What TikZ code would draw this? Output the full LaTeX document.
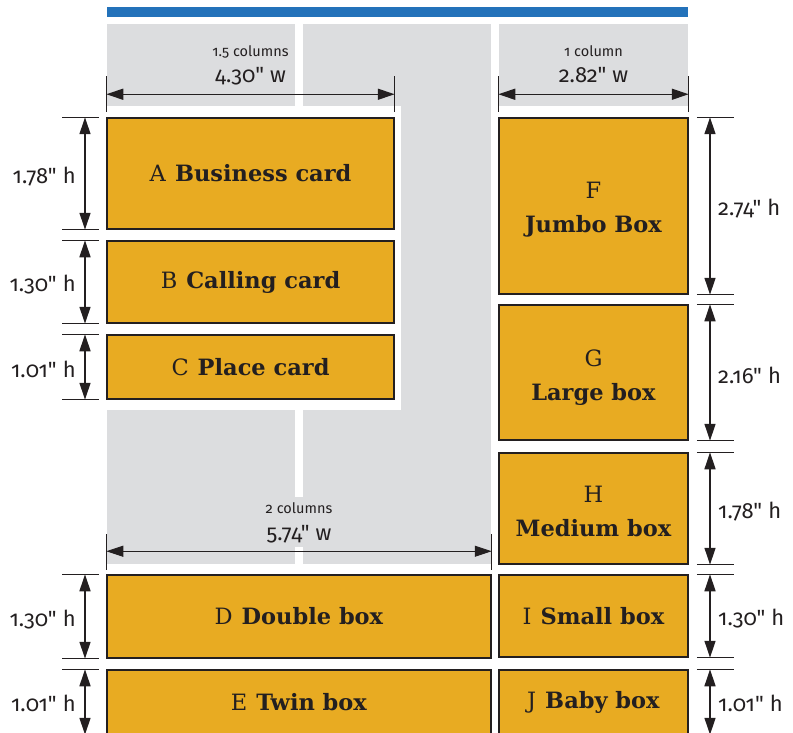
\documentclass[tikz,border=0pt]{standalone}
\usepackage{fontspec}
\setmainfont{DejaVu Serif}
\newfontfamily\dimfont{Fira Sans}[Numbers=OldStyle]
\usetikzlibrary{arrows.meta}
\definecolor{boxfill}{HTML}{E8AB22}
\definecolor{colgray}{HTML}{DCDDDF}
\definecolor{barblue}{HTML}{2372BA}
\definecolor{ink}{HTML}{231F20}
\newcommand{\dsp}{\hspace{0.28em}}
\begin{document}
\begin{tikzpicture}[x=1pt,y=-1pt,
  sizebox/.style={draw=ink, line width=1.5pt, fill=boxfill, text=ink, align=center, inner sep=0pt,
    font=\fontsize{22.5}{35}\selectfont},
  dimline/.style={draw=ink, line width=1.3pt, {Triangle[length=17pt,width=11pt]}-{Triangle[length=17pt,width=11pt]}},
  thindim/.style={draw=ink, line width=0.9pt, {Triangle[length=17pt,width=11pt]}-{Triangle[length=17pt,width=11pt]}},
  extline/.style={draw=ink, line width=1.3pt},
  dimlab/.style={font=\dimfont\fontsize{22}{24}\selectfont, text=ink, inner sep=0pt},
  collab/.style={font=\dimfont\fontsize{14.5}{16}\selectfont, text=ink, inner sep=0pt}
]
\useasboundingbox (0,0) rectangle (793,733);
\clip (0,0) rectangle (793,733);
% blue bar and grey columns
\fill[barblue] (107,7) rectangle (688,17);
\fill[colgray] (107,24) rectangle (295,564);
\fill[colgray] (303,24) rectangle (491,564);
\fill[colgray] (499,24) rectangle (688,106);
\fill[white] (107,106) rectangle (401,410);
% boxes
\node[sizebox, minimum width=287pt, minimum height=111pt] (A) at (250.5,173.5) {A\hspace{9pt}\textbf{Business card}};
\node[sizebox, minimum width=287pt, minimum height=82pt] (B) at (250.5,282) {B\hspace{9pt}\textbf{Calling card}};
\node[sizebox, minimum width=287pt, minimum height=64pt] (C) at (250.5,367) {C\hspace{9pt}\textbf{Place card}};
\node[sizebox, minimum width=384pt, minimum height=83pt] (D) at (299,616.5) {D\hspace{9pt}\textbf{Double box}};
\node[sizebox, minimum width=384pt, minimum height=64pt] (E) at (299,702) {E\hspace{9pt}\textbf{Twin box}};
\node[sizebox, minimum width=189pt, minimum height=176pt] (F) at (593.5,206) {};
\node[sizebox, minimum width=189pt, minimum height=135pt] (G) at (593.5,372.5) {};
\node[sizebox, minimum width=189pt, minimum height=111pt] (H) at (593.5,508.5) {};
\node[sizebox, minimum width=189pt, minimum height=82pt] (I) at (593.5,616) {I\hspace{9pt}\textbf{Small box}};
\node[sizebox, minimum width=189pt, minimum height=64pt] (J) at (593.5,702) {J\hspace{9pt}\textbf{Baby box}};
% two-line texts of F, G, H (letter above name)
\node[sizebox, draw=none, fill=none, anchor=base] (Fl) at (593.5,199) {F};
\node[sizebox, draw=none, fill=none, anchor=base] (Fn) at (593.5,233) {\textbf{Jumbo Box}};
\node[sizebox, draw=none, fill=none, anchor=base] (Gl) at (593.5,366) {G};
\node[sizebox, draw=none, fill=none, anchor=base] (Gn) at (593.5,400) {\textbf{Large box}};
\node[sizebox, draw=none, fill=none, anchor=base] (Hl) at (593.5,502) {H};
\node[sizebox, draw=none, fill=none, anchor=base] (Hn) at (593.5,536) {\textbf{Medium box}};
% reference x positions for vertical dimensions
\coordinate (L) at (85,0);
\coordinate (R) at (710,0);
% left height dimensions
\foreach \b in {A,B,C,D,E}{
  \draw[extline] ([xshift=-44pt]\b.north west) -- ([xshift=-7pt]\b.north west);
  \draw[extline] ([xshift=-44pt]\b.south west) -- ([xshift=-7pt]\b.south west);
  \draw[dimline] (\b.north -| L) -- (\b.south -| L);
}
% right height dimensions
\foreach \b in {F,G,H,I,J}{
  \draw[extline] ([xshift=8pt]\b.north east) -- ([xshift=45pt]\b.north east);
  \draw[extline] ([xshift=8pt]\b.south east) -- ([xshift=45pt]\b.south east);
  \draw[dimline] (\b.north -| R) -- (\b.south -| R);
}
\node[dimlab, anchor=base east] (hA) at (76,183) {1.78"\dsp h};
\node[dimlab, anchor=base east] (hB) at (76,291) {1.30"\dsp h};
\node[dimlab, anchor=base east] (hC) at (76,377) {1.01"\dsp h};
\node[dimlab, anchor=base east] (hD) at (76,626) {1.30"\dsp h};
\node[dimlab, anchor=base east] (hE) at (76,711) {1.01"\dsp h};
\node[dimlab, anchor=base west] (hF) at (718,215) {2.74"\dsp h};
\node[dimlab, anchor=base west] (hG) at (718,383) {2.16"\dsp h};
\node[dimlab, anchor=base west] (hH) at (718,518) {1.78"\dsp h};
\node[dimlab, anchor=base west] (hI) at (718,625) {1.30"\dsp h};
\node[dimlab, anchor=base west] (hJ) at (718,711) {1.01"\dsp h};
% top width dimensions
\coordinate (w1a) at ([yshift=23pt]A.north west);
\coordinate (w1b) at ([yshift=23pt]A.north east);
\draw[extline] ([yshift=41pt]A.north west) -- ([yshift=5pt]A.north west);
\draw[extline] ([yshift=41pt]A.north east) -- ([yshift=5pt]A.north east);
\draw[dimline] (w1a) -- (w1b);
\node[collab, anchor=base] (c1) at (250.5,57) {1.5 columns};
\node[dimlab, anchor=base] (wA) at (250.5,83) {4.30"\dsp w};
\coordinate (w2a) at ([yshift=23pt]F.north west);
\coordinate (w2b) at ([yshift=23pt]F.north east);
\draw[extline] ([yshift=41pt]F.north west) -- ([yshift=5pt]F.north west);
\draw[extline] ([yshift=41pt]F.north east) -- ([yshift=5pt]F.north east);
\draw[dimline] (w2a) -- (w2b);
\node[collab, anchor=base] (c2) at (593.5,57) {1 column};
\node[dimlab, anchor=base] (wF) at (593.5,83) {2.82"\dsp w};
% bottom width dimension (2 columns)
\fill[colgray] (291,497) rectangle (307,547);
\coordinate (w3a) at ([yshift=23pt]D.north west);
\coordinate (w3b) at ([yshift=23pt]D.north east);
\draw[extline] ([yshift=40pt]D.north west) -- ([yshift=4pt]D.north west);
\draw[extline] ([yshift=40pt]D.north east) -- ([yshift=4pt]D.north east);
\draw[thindim] (w3a) -- (w3b);
\node[collab, anchor=base] (c3) at (299,513) {2 columns};
\node[dimlab, anchor=base] (wD) at (299,540) {5.74"\dsp w};
\end{tikzpicture}
\end{document}
